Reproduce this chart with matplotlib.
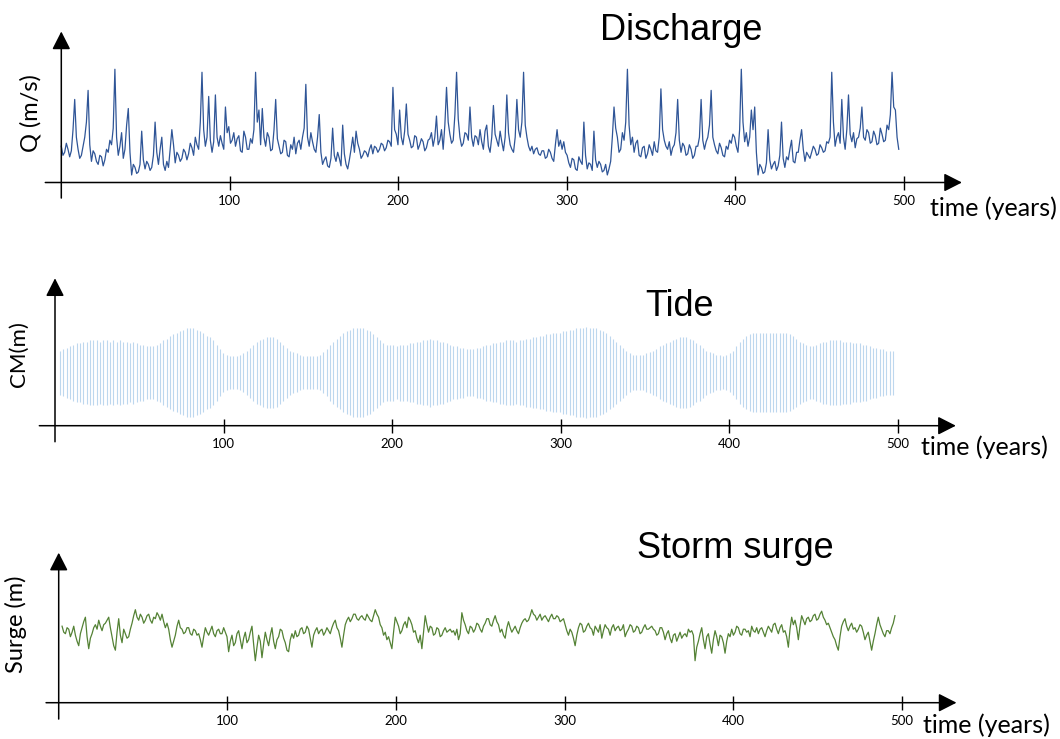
import numpy as np
import matplotlib.pyplot as plt

W, H = 1060, 739

# river discharge, yearly values (arbitrary units, 100 = top of axis)
discharge = [
    24, 18, 20, 26, 22, 17, 21, 35, 55, 30, 22, 16, 18, 24, 30, 40, 61, 25, 14, 21,
    19, 14, 12, 18, 17, 11, 15, 22, 20, 28, 25, 36, 75, 30, 18, 24, 33, 16, 22, 38,
    49, 20, 5, 12, 10, 6, 7, 12, 34, 15, 9, 14, 12, 8, 10, 18, 40, 20, 12, 22,
    30, 12, 8, 14, 10, 22, 35, 25, 13, 20, 18, 14, 16, 22, 20, 15, 19, 26, 23, 18,
    30, 25, 22, 40, 73, 35, 24, 30, 57, 28, 20, 27, 58, 30, 24, 31, 26, 22, 50, 33,
    37, 26, 28, 33, 24, 29, 31, 21, 20, 34, 30, 22, 22, 29, 26, 35, 73, 40, 48, 25,
    49, 30, 24, 33, 30, 21, 22, 35, 55, 29, 24, 19, 20, 28, 27, 18, 17, 25, 22, 30,
    19, 26, 28, 22, 30, 36, 65, 30, 24, 33, 27, 22, 20, 30, 45, 20, 12, 15, 17, 11,
    10, 16, 36, 18, 14, 20, 16, 11, 38, 19, 12, 9, 15, 22, 30, 20, 34, 26, 22, 16,
    18, 21, 20, 17, 22, 25, 19, 24, 23, 20, 22, 26, 25, 21, 23, 28, 27, 24, 63, 35,
    32, 25, 48, 30, 25, 34, 52, 32, 28, 23, 24, 31, 30, 22, 25, 29, 27, 21, 23, 28,
    29, 33, 24, 30, 44, 25, 28, 35, 22, 38, 63, 40, 32, 26, 28, 45, 73, 42, 30, 24,
    26, 33, 32, 28, 50, 30, 24, 31, 30, 25, 35, 27, 22, 34, 38, 24, 20, 30, 51, 32,
    28, 24, 34, 27, 21, 30, 58, 33, 25, 22, 20, 30, 55, 35, 30, 40, 73, 38, 30, 24,
    21, 24, 19, 22, 23, 19, 18, 21, 21, 16, 17, 22, 20, 16, 14, 25, 35, 24, 28, 22,
    27, 20, 18, 13, 10, 16, 15, 9, 8, 17, 14, 12, 40, 18, 9, 13, 12, 8, 34, 15,
    10, 14, 12, 7, 8, 12, 5, 9, 14, 30, 50, 36, 30, 20, 22, 33, 28, 40, 75, 38,
    25, 30, 20, 26, 28, 18, 17, 23, 24, 16, 19, 25, 22, 18, 27, 21, 20, 30, 62, 35,
    28, 24, 22, 27, 18, 23, 25, 33, 55, 28, 20, 26, 24, 18, 19, 25, 22, 16, 18, 24,
    24, 30, 55, 28, 22, 27, 30, 38, 61, 30, 25, 21, 19, 26, 23, 18, 17, 24, 22, 28,
    26, 32, 30, 24, 20, 35, 75, 40, 27, 33, 24, 30, 48, 35, 50, 20, 5, 12, 10, 6,
    7, 13, 35, 15, 9, 12, 14, 8, 11, 18, 40, 16, 10, 17, 15, 22, 28, 14, 13, 20,
    20, 28, 35, 22, 14, 20, 18, 16, 20, 24, 22, 18, 19, 25, 23, 20, 21, 27, 26, 30,
    73, 40, 24, 30, 33, 26, 55, 30, 22, 35, 58, 32, 27, 33, 23, 29, 30, 36, 50, 30,
    28, 35, 33, 26, 27, 34, 31, 25, 26, 36, 32, 27, 28, 38, 35, 45, 73, 50, 48, 30,
    22,
]

# tidal half-range per cycle around a fixed mean level
tide_mean = 36
tide_half_range = [
    15, 16, 17, 18, 19, 20, 20, 21, 21, 22,
    22, 22, 21, 22, 22, 21, 22, 21, 22, 21,
    21, 20, 21, 20, 19, 19, 18, 18, 18, 19,
    20, 22, 23, 25, 26, 27, 28, 29, 30, 30,
    30, 29, 28, 27, 25, 24, 22, 19, 16, 13,
    12, 11, 11, 11, 12, 13, 15, 17, 19, 21,
    22, 23, 24, 24, 24, 23, 21, 19, 17, 15,
    14, 13, 12, 11, 11, 11, 11, 11, 12, 14,
    16, 19, 21, 23, 25, 27, 28, 29, 30, 30,
    30, 30, 29, 28, 26, 24, 22, 20, 19, 19,
    19, 18, 19, 19, 19, 20, 20, 21, 21, 22,
    22, 23, 22, 22, 21, 21, 20, 19, 18, 18,
    17, 17, 16, 16, 16, 17, 17, 18, 19, 19,
    20, 20, 21, 21, 22, 22, 22, 21, 22, 22,
    23, 23, 24, 24, 25, 25, 26, 26, 27, 27,
    27, 28, 28, 29, 29, 30, 30, 30, 31, 30,
    30, 30, 29, 28, 27, 25, 23, 21, 19, 17,
    15, 13, 12, 12, 12, 12, 13, 14, 15, 16,
    18, 19, 20, 21, 22, 23, 24, 24, 24, 23,
    22, 20, 19, 17, 15, 14, 13, 12, 12, 11,
    12, 13, 15, 18, 21, 23, 25, 26, 27, 27,
    27, 27, 27, 27, 27, 27, 27, 27, 27, 26,
    25, 23, 21, 20, 19, 18, 18, 19, 20, 21,
    21, 22, 22, 22, 22, 21, 21, 21, 20, 20,
    20, 19, 19, 18, 17, 17, 16, 16, 15, 15,
    15,
]

# storm surge level, yearly
surge = [
    51, 47, 46, 50, 49, 44, 47, 51, 45, 41, 38, 46, 50, 54, 57, 44, 36, 43, 46, 50,
    52, 49, 55, 51, 48, 52, 53, 55, 57, 50, 44, 38, 35, 47, 56, 45, 40, 49, 46, 43,
    44, 49, 53, 58, 62, 57, 55, 59, 57, 53, 55, 58, 59, 55, 53, 57, 56, 60, 58, 55,
    59, 54, 50, 53, 49, 42, 37, 41, 45, 51, 55, 50, 49, 46, 47, 50, 50, 46, 45, 49,
    48, 45, 46, 42, 37, 44, 50, 47, 45, 48, 51, 46, 44, 48, 49, 46, 46, 50, 47, 44,
    34, 41, 45, 38, 40, 46, 48, 42, 36, 43, 47, 40, 42, 47, 51, 39, 28, 37, 45, 41,
    30, 39, 47, 42, 38, 45, 50, 41, 36, 42, 44, 49, 48, 43, 40, 35, 34, 42, 46, 43,
    48, 44, 45, 49, 50, 46, 47, 51, 49, 43, 37, 45, 48, 50, 46, 48, 49, 45, 47, 50,
    48, 46, 50, 53, 55, 50, 48, 43, 37, 45, 52, 55, 57, 54, 56, 59, 59, 56, 55, 57,
    58, 56, 55, 59, 57, 55, 54, 58, 62, 59, 57, 52, 50, 45, 47, 42, 44, 40, 36, 47,
    57, 54, 51, 46, 48, 52, 54, 50, 57, 55, 52, 47, 48, 43, 40, 45, 36, 47, 58, 52,
    47, 51, 50, 45, 46, 50, 49, 44, 45, 48, 50, 47, 48, 49, 47, 48, 45, 49, 42, 46,
    60, 55, 52, 48, 46, 51, 50, 47, 49, 53, 52, 49, 47, 51, 53, 56, 56, 52, 51, 55,
    58, 54, 52, 47, 49, 45, 43, 50, 54, 50, 47, 49, 51, 48, 46, 50, 53, 55, 56, 54,
    55, 58, 62, 59, 58, 55, 57, 59, 55, 57, 58, 56, 54, 57, 59, 56, 56, 58, 57, 54,
    55, 56, 52, 48, 45, 49, 47, 43, 38, 45, 50, 53, 52, 47, 48, 51, 53, 50, 49, 45,
    51, 49, 47, 52, 43, 48, 52, 50, 49, 45, 50, 52, 48, 50, 51, 48, 49, 52, 44, 47,
    49, 52, 51, 47, 48, 51, 50, 46, 47, 50, 52, 49, 49, 50, 51, 49, 48, 45, 46, 50,
    50, 47, 42, 46, 48, 43, 40, 45, 46, 41, 44, 47, 43, 45, 46, 44, 49, 47, 48, 45,
    28, 37, 41, 46, 50, 42, 36, 44, 46, 39, 33, 42, 48, 44, 38, 45, 44, 40, 33, 41,
    46, 44, 49, 45, 47, 51, 50, 46, 45, 49, 49, 47, 48, 44, 51, 48, 47, 50, 46, 49,
    50, 47, 44, 48, 51, 49, 47, 52, 53, 49, 46, 50, 52, 47, 48, 44, 37, 49, 57, 52,
    55, 50, 42, 51, 58, 55, 52, 56, 57, 54, 55, 58, 59, 55, 56, 59, 61, 57, 55, 52,
    53, 50, 47, 44, 42, 38, 35, 44, 51, 54, 56, 51, 48, 51, 53, 49, 50, 47, 49, 52,
    51, 47, 42, 45, 47, 41, 35, 41, 46, 52, 57, 52, 49, 46, 44, 48, 48, 46, 50, 53,
    58,
]

q_years = np.linspace(0, 497, len(discharge))
tide_years = np.linspace(3, 497, len(tide_half_range))
surge_years = np.linspace(2, 496, len(surge))

xticks = [100, 200, 300, 400, 500]

ARROW = dict(arrowstyle='-|>,head_length=0.55,head_width=0.28',
             mutation_scale=20, lw=1.1, color='black',
             shrinkA=0, shrinkB=0)


def schematic_axes(fig, x0, sx, y0, sy, xlo, xhi, ylo, yhi=101):
    """Axes placed in pixels: x0/y0 is the origin, sx/sy pixels per unit."""
    left, right = x0 + sx * xlo, x0 + sx * xhi
    bottom, top = y0 - sy * ylo, y0 - sy * yhi
    ax = fig.add_axes([left / W, 1 - bottom / H,
                       (right - left) / W, (bottom - top) / H])
    ax.set_xlim(xlo, xhi)
    ax.set_ylim(ylo, yhi)
    ax.patch.set_alpha(0)
    for s in ax.spines.values():
        s.set_visible(False)
    ax.spines['bottom'].set_position(('data', 0))
    ax.set_yticks([])
    ax.set_xticks(xticks)
    ax.set_xticklabels([str(t) for t in xticks], fontfamily='Lato', fontsize=9.5)
    ax.tick_params(axis='x', direction='inout', length=10, width=1.0,
                   pad=4, colors='black')
    ax.annotate('', xy=(0, 100), xytext=(0, ylo), arrowprops=ARROW)
    ax.annotate('', xy=(xhi - 0.5, 0), xytext=(xlo, 0), arrowprops=ARROW)
    return ax


def ftext(x, y, s, **kw):
    fig.text(x / W, 1 - y / H, s, **kw)


fig = plt.figure(figsize=(W / 100, H / 100), dpi=100)

# discharge
ax1 = schematic_axes(fig, 61.3, 1.685, 182.5, 1.51, -9.5, 535, -10.3)
ax1.plot(q_years, discharge, color='#2f5597', lw=0.9)

# tide
ax2 = schematic_axes(fig, 55.0, 1.686, 425.7, 1.474, -9.3, 534.8, -10.9)
lo = [tide_mean - a for a in tide_half_range]
hi = [tide_mean + a for a in tide_half_range]
ax2.vlines(tide_years, lo, hi, color='#bdd7ee', lw=0.8)

# storm surge
ax3 = schematic_axes(fig, 58.7, 1.686, 702.7, 1.50, -7.5, 533, -10.9)
ax3.plot(surge_years, surge, color='#548235', lw=0.9)

title_kw = dict(fontfamily='Liberation Sans', fontsize=26, ha='center', va='baseline')
ftext(681.5, 39.5, 'Discharge', **title_kw)
ftext(680, 316, 'Tide', **title_kw)
ftext(735.5, 558, 'Storm surge', **title_kw)

time_kw = dict(fontfamily='Lato', fontsize=18, ha='left', va='baseline')
ftext(930, 216, 'time (years)', **time_kw)
ftext(921, 455, 'time (years)', **time_kw)
ftext(923, 733, 'time (years)', **time_kw)

ylab_kw = dict(fontfamily='Lato', rotation=90, ha='center', va='center')
ftext(31, 113, 'Q (m/s)', fontsize=17, **ylab_kw)
ftext(19, 354, 'CM(m)', fontsize=16, **ylab_kw)
ftext(16, 624, 'Surge (m)', fontsize=17, **ylab_kw)

fig.savefig('out.png', dpi=100)
